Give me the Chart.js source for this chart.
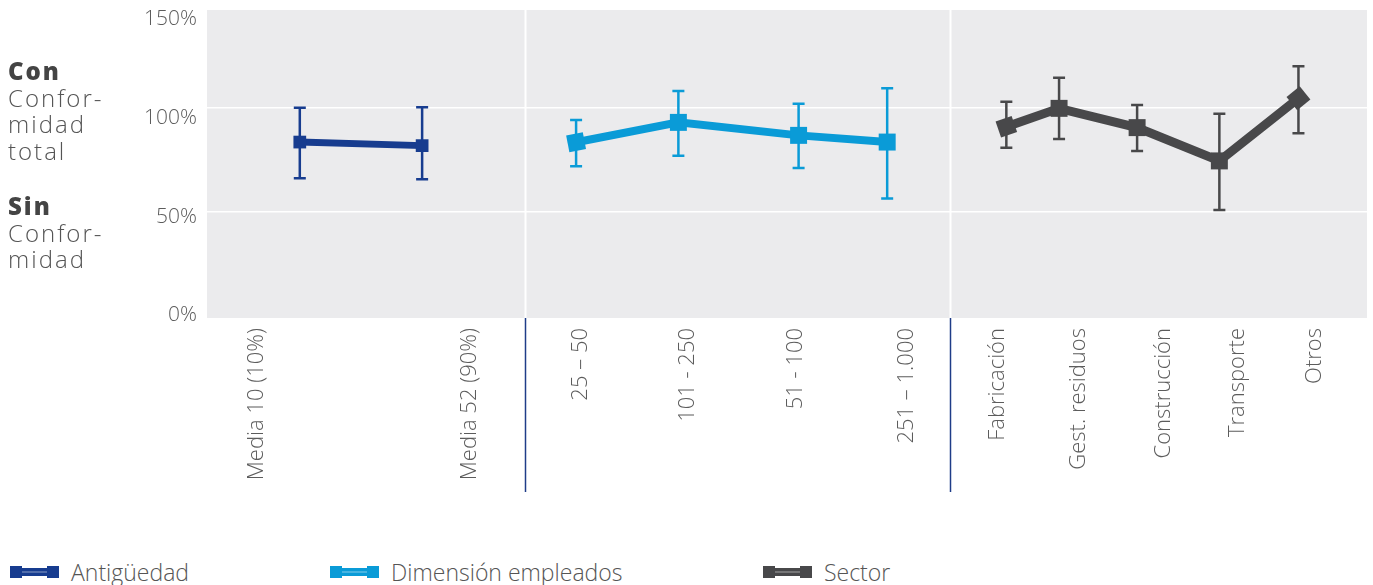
<!DOCTYPE html>
<html>
<head>
<meta charset="utf-8">
<script src="https://cdn.jsdelivr.net/npm/chart.js@4.4.0/dist/chart.umd.min.js"></script>
<style>
  body { margin: 0; background: #fff; font-family: "Open Sans", sans-serif; }
  #wrap { position: absolute; left: 0; top: 0; width: 1373px; height: 500px; }
  .side { position: absolute; left: 8px; color: #555; font-weight: 300; font-size: 24px; line-height: 26.7px; letter-spacing: 2px; }
  .side b { font-weight: 800; color: #444; letter-spacing: 2px; }
  .item { position: absolute; top: 560px; height: 24px; display: flex; align-items: center; color: #555; font-size: 23px; font-weight: 300; }
  .sym { position: relative; width: 49px; height: 12px; margin-right: 12px; }
  .sym .end { position: absolute; top: 0; width: 12px; height: 12px; }
  .sym .bar { position: absolute; left: 10px; right: 10px; top: 2px; height: 8px; }
  .sym .stripe { position: absolute; left: 10px; right: 10px; top: 5px; height: 2px; background: rgba(255,255,255,0.25); }
</style>
</head>
<body>
<div id="wrap"><canvas id="mycanvas"></canvas></div>

<div class="side" style="top:58px"><b>Con</b><br>Confor-<br>midad<br>total</div>
<div class="side" style="top:193px"><b>Sin</b><br>Confor-<br>midad</div>

<div id="legend"></div>

<script>
// categories along the bottom and where each label sits on the x scale
var categories = ['Media 10 (10%)', 'Media 52 (90%)', '25 – 50', '101 - 250', '51 - 100', '251 – 1.000',
  'Fabricación', 'Gest. residuos', 'Construcción', 'Transporte', 'Otros'];
var labelPos = [0.47, 2.49, 3.54, 4.56, 5.58, 6.64, 7.50, 8.27, 9.07, 9.77, 10.50];
var groupEdges = [3.02, 7.05];
var yTicks = [0, 50, 100, 150];
var yGrid = [50, 100];

// Antigüedad
var antigX = [0.88, 2.04];
var antig = [83.4, 81.7];
var antigHi = [99.8, 100.0];
var antigLo = [66.1, 65.6];

// Dimensión empleados
var dimX = [3.50, 4.47, 5.61, 6.45];
var dim = [83.3, 92.8, 86.6, 83.4];
var dimHi = [93.9, 107.8, 101.7, 109.1];
var dimLo = [71.8, 76.9, 71.0, 56.5];

// Sector
var sectX = [7.58, 8.08, 8.82, 9.60, 10.35];
var sect = [90.7, 99.5, 90.3, 74.4, 104.3];
var sectHi = [102.7, 114.1, 101.1, 96.9, 119.6];
var sectLo = [80.7, 84.9, 79.1, 51.0, 87.6];

var NAVY = '#173c8f', BLUE = '#0a9bd7', GREY = '#48484a', TXT = '#5c5c5c';

function pts(xs, ys) {
  return xs.map(function(x, i) { return { x: x, y: ys[i] }; });
}

var plotBg = {
  id: 'plotBg',
  beforeDraw: function(chart) {
    var a = chart.chartArea, ctx = chart.ctx;
    ctx.save();
    ctx.fillStyle = '#ebebed';
    ctx.fillRect(a.left, a.top, a.right - a.left, a.bottom - a.top);
    ctx.restore();
  }
};

// white group dividers in the plot, navy ones below the axis
var dividers = {
  id: 'dividers',
  beforeDatasetsDraw: function(chart) {
    var a = chart.chartArea, ctx = chart.ctx, xs = chart.scales.x;
    ctx.save();
    groupEdges.forEach(function(v) {
      var x = Math.round(xs.getPixelForValue(v)) + 0.5;
      ctx.strokeStyle = '#fff';
      ctx.lineWidth = 2;
      ctx.beginPath(); ctx.moveTo(x, a.top); ctx.lineTo(x, a.bottom); ctx.stroke();
      ctx.strokeStyle = '#1f3c88';
      ctx.lineWidth = 1.5;
      ctx.beginPath(); ctx.moveTo(x, a.bottom); ctx.lineTo(x, a.bottom + 174); ctx.stroke();
    });
    ctx.restore();
  }
};

var errorBars = {
  id: 'errorBars',
  beforeDatasetsDraw: function(chart) {
    var ctx = chart.ctx, xs = chart.scales.x, ys = chart.scales.y;
    chart.data.datasets.forEach(function(ds) {
      ctx.save();
      ctx.strokeStyle = ds.borderColor;
      ctx.lineWidth = 2.5;
      ds.data.forEach(function(p, i) {
        var x = xs.getPixelForValue(p.x);
        var top = ys.getPixelForValue(ds.errHi[i]);
        var bot = ys.getPixelForValue(ds.errLo[i]);
        ctx.beginPath();
        ctx.moveTo(x, top); ctx.lineTo(x, bot);
        ctx.moveTo(x - 6, top); ctx.lineTo(x + 6, top);
        ctx.moveTo(x - 6, bot); ctx.lineTo(x + 6, bot);
        ctx.stroke();
      });
      ctx.restore();
    });
  }
};

function noPad(s) {
  s.paddingTop = 0; s.paddingBottom = 0; s.paddingLeft = 0; s.paddingRight = 0;
}

var chartdata = {
  datasets: [
    {
      label: 'Antigüedad',
      data: pts(antigX, antig),
      errHi: antigHi, errLo: antigLo,
      xAxisID: 'x', yAxisID: 'y',
      borderColor: NAVY, backgroundColor: NAVY,
      borderWidth: 7, pointStyle: 'rect', pointRadius: 9, pointBorderWidth: 0
    },
    {
      label: 'Dimensión empleados',
      data: pts(dimX, dim),
      errHi: dimHi, errLo: dimLo,
      xAxisID: 'x', yAxisID: 'y',
      borderColor: BLUE, backgroundColor: BLUE,
      borderWidth: 8, pointStyle: 'rect', pointRadius: 12, pointBorderWidth: 0,
      pointRotation: [-11, 0, 0, 0]
    },
    {
      label: 'Sector',
      data: pts(sectX, sect),
      errHi: sectHi, errLo: sectLo,
      xAxisID: 'x', yAxisID: 'y',
      borderColor: GREY, backgroundColor: GREY,
      borderWidth: 9, pointStyle: 'rect', pointRadius: 12, pointBorderWidth: 0,
      pointRotation: [-19, 0, 0, 0, -39]
    }
  ]
};

var ctx = document.getElementById('mycanvas');

var lineGraph = new Chart(ctx, {
  type: 'line',
  data: chartdata,
  plugins: [plotBg, dividers, errorBars],
  options: {
    responsive: true,
    maintainAspectRatio: false,
    animation: false,
    layout: { autoPadding: false, padding: { left: 130, right: 6, top: 10, bottom: 0 } },
    plugins: { legend: { display: false }, tooltip: { enabled: false } },
    scales: {
      x: {
        type: 'linear', min: 0, max: 11,
        grid: { display: false, drawTicks: false },
        border: { display: false },
        afterBuildTicks: function(s) { s.ticks = labelPos.map(function(v) { return { value: v }; }); },
        afterFit: function(s) { s.height = 182; noPad(s); },
        ticks: {
          autoSkip: false, minRotation: 90, maxRotation: 90, padding: 10,
          color: TXT, font: { family: 'Open Sans', size: 22, weight: 300 },
          callback: function(v, i) { return categories[i]; }
        }
      },
      yt: {
        type: 'linear', position: 'left', min: -1.27, max: 154.76,
        grid: { display: false, drawTicks: false },
        border: { display: false },
        afterBuildTicks: function(s) { s.ticks = yTicks.map(function(v) { return { value: v }; }); },
        afterFit: function(s) { s.width = 77; noPad(s); },
        ticks: {
          padding: 10, color: TXT, font: { family: 'Open Sans', size: 21, weight: 300 },
          callback: function(v) { return v + '%'; }
        }
      },
      y: {
        type: 'linear', position: 'left', min: -0.62, max: 146.47,
        grid: { color: '#ffffff', lineWidth: 1.5, drawTicks: false },
        border: { display: false },
        afterBuildTicks: function(s) { s.ticks = yGrid.map(function(v) { return { value: v }; }); },
        afterFit: function(s) { s.width = 0; noPad(s); },
        ticks: { display: false }
      }
    }
  }
});

// legend below the chart
var legendLeft = [10, 330, 763];
var legend = document.getElementById('legend');
chartdata.datasets.forEach(function(ds, i) {
  var c = ds.borderColor;
  var item = document.createElement('div');
  item.className = 'item';
  item.style.left = legendLeft[i] + 'px';
  item.innerHTML = '<div class="sym">' +
    '<div class="bar" style="background:' + c + '"></div>' +
    '<div class="stripe"></div>' +
    '<div class="end" style="left:0;background:' + c + '"></div>' +
    '<div class="end" style="right:0;background:' + c + '"></div>' +
    '</div><span>' + ds.label + '</span>';
  legend.appendChild(item);
});
</script>
</body>
</html>
